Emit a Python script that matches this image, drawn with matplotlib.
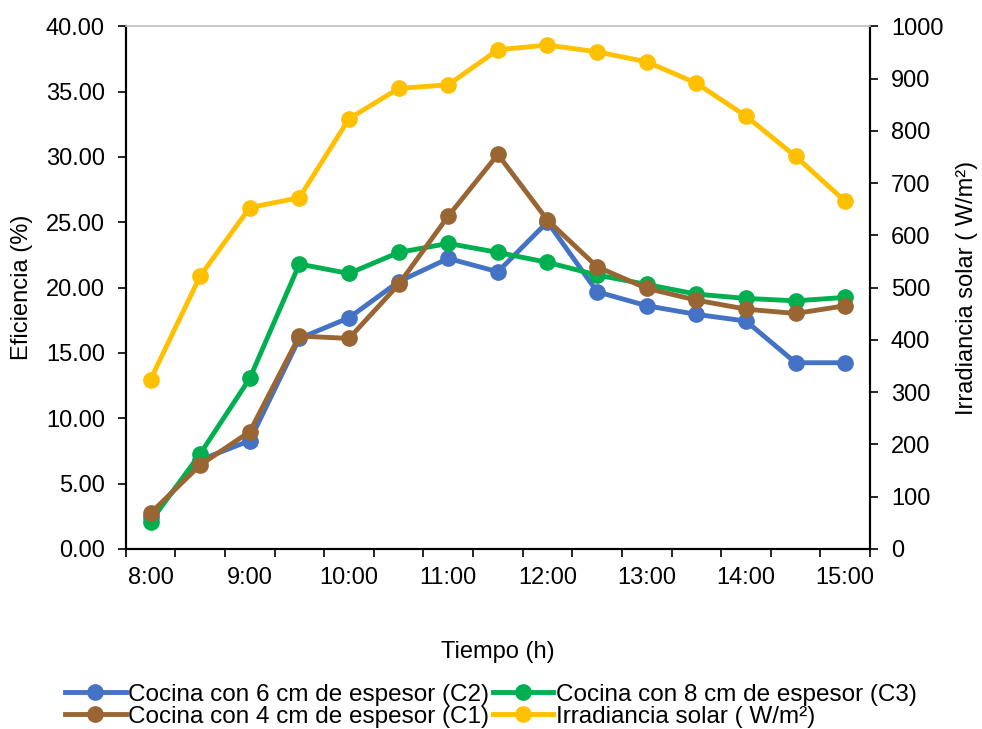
import numpy as np
import matplotlib.pyplot as plt

plt.rcParams['font.family'] = ['Liberation Sans', 'DejaVu Sans']

# half-hour readings, 8:00 to 15:00
hours = ["8:00", "9:00", "10:00", "11:00", "12:00", "13:00", "14:00", "15:00"]
c2_6cm = [2.45, 6.8, 8.29, 16.11, 17.69, 20.45, 22.23, 21.21, 25.03,
          19.68, 18.61, 17.95, 17.44, 14.25, 14.25]
c3_8cm = [2.09, 7.27, 13.05, 21.80, 21.08, 22.69, 23.38, 22.69, 21.93,
          20.96, 20.24, 19.50, 19.17, 18.99, 19.25]
c1_4cm = [2.73, 6.42, 8.97, 16.29, 16.11, 20.24, 25.47, 30.19, 25.16,
          21.59, 19.94, 19.04, 18.35, 18.02, 18.61]
irradiancia = [324, 522, 653, 672, 823, 881, 888, 955, 964,
               951, 932, 891, 828, 751, 665]

x = np.arange(len(c2_6cm))

fig = plt.figure(figsize=(9.82, 7.29), dpi=100)
ax = fig.add_axes([0.128, 0.247, 0.758, 0.717])
ax2 = ax.twinx()

lw = 3.5
ms = 11
l_c2, = ax.plot(x, c2_6cm, color="#4472C4", lw=lw, marker="o", ms=ms,
                label="Cocina con 6 cm de espesor (C2)")
l_c3, = ax.plot(x, c3_8cm, color="#00B050", lw=lw, marker="o", ms=ms,
                label="Cocina con 8 cm de espesor (C3)")
l_c1, = ax.plot(x, c1_4cm, color="#996633", lw=lw, marker="o", ms=ms,
                label="Cocina con 4 cm de espesor (C1)")
l_irr, = ax2.plot(x, irradiancia, color="#FFC000", lw=lw, marker="o", ms=ms,
                  label="Irradiancia solar ( W/m²)")

ax.set_xlim(-0.5, len(x) - 0.5)
ax.set_ylim(0, 40)
ax2.set_ylim(0, 1000)

ax.set_yticks(np.arange(0, 41, 5))
ax.set_yticklabels([f"{v:.2f}" for v in np.arange(0, 41, 5)])
ax2.set_yticks(np.arange(0, 1001, 100))

# tick marks between categories, labels every hour
ax.set_xticks(np.arange(-0.5, len(x), 1))
ax.set_xticklabels([])
ax.set_xticks(np.arange(0, len(x), 2), minor=True)
ax.set_xticklabels(hours, minor=True)
ax.tick_params(axis="x", which="major", direction="out", length=6, width=1.2)
ax.tick_params(axis="x", which="minor", length=0, pad=13, labelsize=17)
ax.tick_params(axis="y", direction="out", length=6, width=1.2, pad=9, labelsize=17)
ax2.tick_params(axis="y", direction="out", length=6, width=1.2, pad=9, labelsize=17)

for a in (ax, ax2):
    for s in ("left", "right", "bottom"):
        a.spines[s].set_linewidth(1.5)
        a.spines[s].set_color("black")
    a.spines["top"].set_color("#c8c8c8")
    a.spines["top"].set_linewidth(1.2)

ax.set_xlabel("Tiempo (h)", fontsize=17)
ax.xaxis.set_label_coords(0.5, -0.176)
ax.set_ylabel("Eficiencia (%)", fontsize=17)
ax.yaxis.set_label_coords(-0.124, 0.5)
ax2.set_ylabel("Irradiancia solar ( W/m²)", fontsize=17)
ax2.yaxis.set_label_coords(1.115, 0.5)

fig.legend(handles=[l_c2, l_c1, l_c3, l_irr], ncol=2, loc="upper left",
           bbox_to_anchor=(0.066, 0.062), frameon=False, fontsize=17.5,
           handlelength=2.5, handletextpad=0.1, columnspacing=0.15,
           labelspacing=0.0, borderpad=0, borderaxespad=0)

fig.savefig("out.png", dpi=100)
